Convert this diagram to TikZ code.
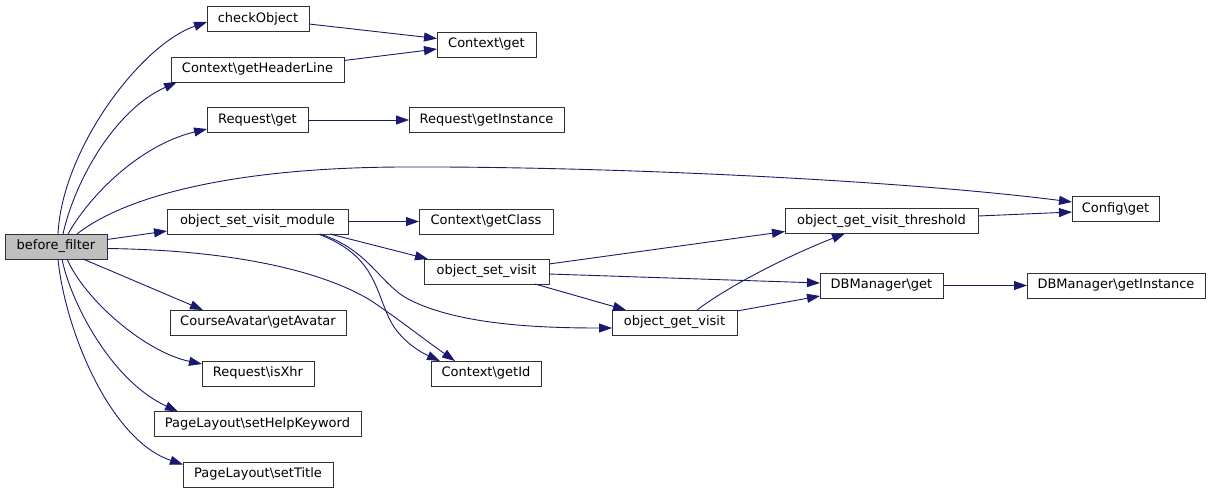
\documentclass[tikz,border=0pt]{standalone}
\usepackage{fontspec}
\setmainfont{DejaVu Sans}
\usetikzlibrary{arrows.meta,calc}
\definecolor{edgeblue}{HTML}{191970}
\definecolor{rootgray}{HTML}{BFBFBF}
\definecolor{boxline}{HTML}{303030}
\begin{document}
\begin{tikzpicture}[x=1pt,y=-1pt,
  box/.style={draw=boxline, line width=1pt, rectangle, inner sep=0pt, outer sep=0pt,
    minimum height=25pt, text height=9.5pt, text depth=2.7pt,
    font=\fontsize{13}{15}\selectfont, fill=white},
  edge/.style={draw=edgeblue, line width=0.9pt, -{Triangle[length=13pt,width=9pt]}}]
\useasboundingbox (0,0) rectangle (1211,493);

\node[box, fill=rootgray, minimum width=102pt] (bf) at (56,246.5) {before\_filter};
\node[box, minimum width=102pt] (co) at (258,19) {checkObject};
\node[box, minimum width=173pt] (hl) at (257.5,69.5) {Context\textbackslash getHeaderLine};
\node[box, minimum width=99pt] (cg) at (486.5,44.5) {Context\textbackslash get};
\node[box, minimum width=101pt] (rg) at (257.5,120) {Request\textbackslash get};
\node[box, minimum width=155pt] (ri) at (486.5,120) {Request\textbackslash getInstance};
\node[box, minimum width=87pt] (cfg) at (1115.5,209) {Config\textbackslash get};
\node[box, minimum width=181pt] (osvm) at (257.5,221.5) {object\_set\_visit\_module};
\node[box, minimum width=134pt] (gc) at (486,221.5) {Context\textbackslash getClass};
\node[box, minimum width=193pt] (th) at (881.5,221) {object\_get\_visit\_threshold};
\node[box, minimum width=125pt] (osv) at (486.5,271.5) {object\_set\_visit};
\node[box, minimum width=123pt] (db) at (881.5,285.5) {DBManager\textbackslash get};
\node[box, minimum width=178pt] (dbi) at (1116,285.5) {DBManager\textbackslash getInstance};
\node[box, minimum width=125pt] (ogv) at (674.5,322.5) {object\_get\_visit};
\node[box, minimum width=176pt] (av) at (258,322.5) {CourseAvatar\textbackslash getAvatar};
\node[box, minimum width=110pt] (gid) at (486,373.5) {Context\textbackslash getId};
\node[box, minimum width=112pt] (xhr) at (258,373.5) {Request\textbackslash isXhr};
\node[box, minimum width=207pt] (hk) at (257.5,424) {PageLayout\textbackslash setHelpKeyword};
\node[box, minimum width=150pt] (st) at (258,474.5) {PageLayout\textbackslash setTitle};

% edges from before_filter
\draw[edge] ($(bf.north)+(2,0)$) .. controls (62,150) and (140,45) .. ($(co.west)+(0,3)$);
\draw[edge] ($(bf.north)+(7,0)$) .. controls (75,180) and (115,110) .. ($(hl.south west)+(6,0)$);
\draw[edge] ($(bf.north)+(12,0)$) .. controls (90,195) and (140,145) .. ($(rg.west)+(0,9)$);
\draw[edge] ($(bf.north)+(21,0)$) .. controls (120,200) and (220,168) .. (400,167)
   .. controls (600,166) and (900,180) .. ($(cfg.west)+(0,-7)$);
\draw[edge] ($(bf.east)+(0,-7)$) -- ($(osvm.south west)+(0,-3)$);
\draw[edge] ($(bf.east)+(0,2)$) .. controls (230,250) and (320,270) .. (370,300)
   .. controls (400,320) and (425,340) .. ($(gid.north west)+(24,0)$);
\draw[edge] ($(bf.south)+(27,0)$) -- ($(av.north west)+(33,0)$);
\draw[edge] ($(bf.south)+(11,0)$) .. controls (85,300) and (145,352) .. ($(xhr.west)+(0,-9.5)$);
\draw[edge] ($(bf.south)+(6,0)$) .. controls (70,300) and (110,380) .. ($(hk.north west)+(24,0)$);
\draw[edge] ($(bf.south)+(2,0)$) .. controls (65,330) and (110,440) .. ($(st.west)+(0,-10)$);

% second level
\draw[edge] ($(co.east)+(0,5)$) -- ($(cg.west)+(0,-6)$);
\draw[edge] ($(hl.east)+(0,-9)$) -- ($(cg.west)+(0,4.5)$);
\draw[edge] (rg.east) -- (ri.west);
\draw[edge] (osvm.east) -- (gc.west);
\draw[edge] ($(osvm.south east)+(-18,0)$) -- ($(osv.north west)+(4,0)$);
\draw[edge] ($(osvm.south east)+(-28,0)$) .. controls (370,250) and (380,285) .. (410,300)
   .. controls (460,325) and (540,328) .. ($(ogv.west)+(0,5.5)$);
\draw[edge] ($(osvm.south east)+(-30,0)$) .. controls (375,255) and (375,290) .. (390,320)
   .. controls (400,340) and (420,352) .. ($(gid.north west)+(9,0)$);

\draw[edge] ($(osv.east)+(0,-7.5)$) -- ($(th.south west)+(0,-2)$);
\draw[edge] ($(osv.east)+(0,2.5)$) -- ($(db.west)+(0,-2.5)$);
\draw[edge] ($(osv.south east)+(-14,0)$) -- ($(ogv.north west)+(14,0)$);

\draw[edge] ($(ogv.north)+(22.5,0)$) .. controls (730,285) and (790,255) .. ($(th.south)+(-36.5,0)$);
\draw[edge] ($(ogv.north east)+(0,1)$) -- ($(db.south west)+(0,-2)$);
\draw[edge] ($(th.east)+(0,-5)$) -- ($(cfg.west)+(0,3)$);
\draw[edge] (db.east) -- (dbi.west);
\end{tikzpicture}
\end{document}
